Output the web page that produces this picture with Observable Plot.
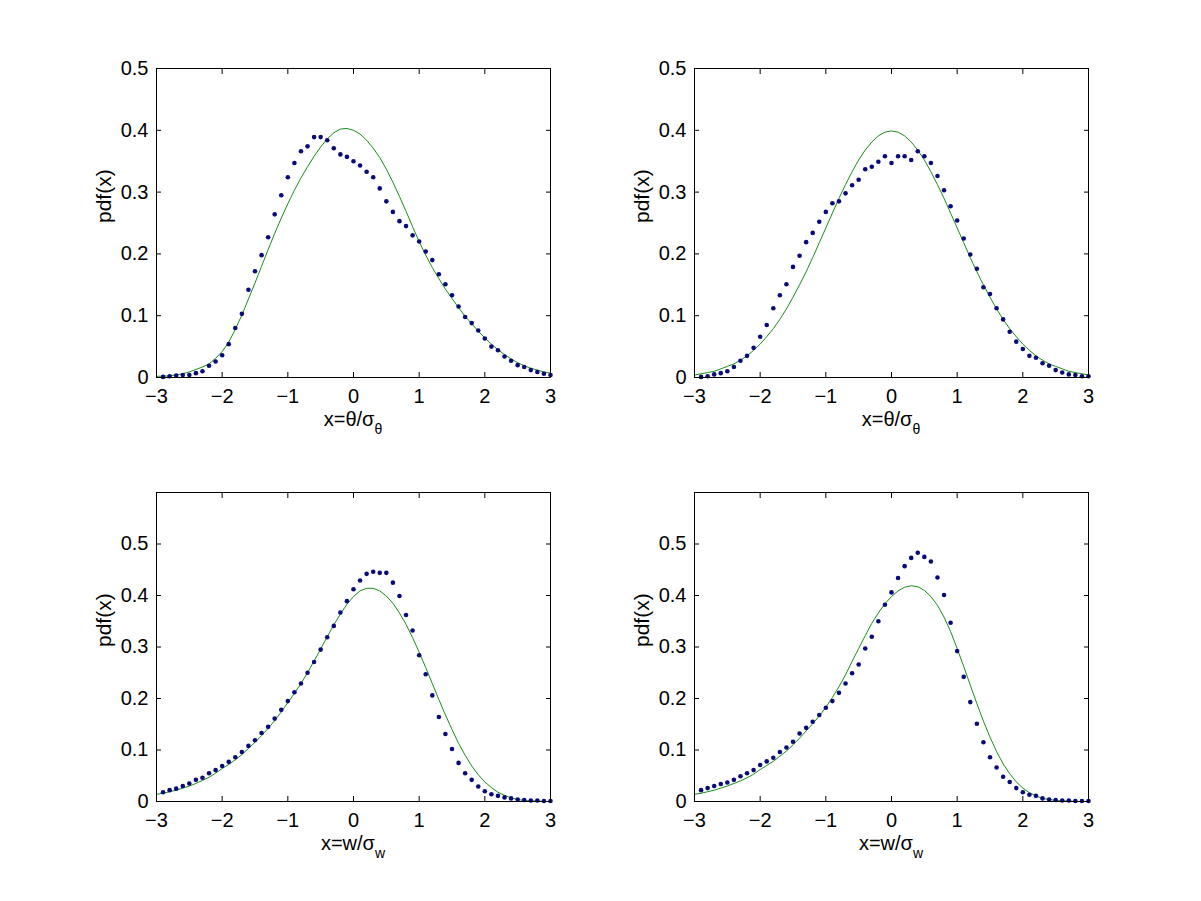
<!DOCTYPE html>
<html>
<head>
<meta charset="utf-8">
<script src="https://cdn.jsdelivr.net/npm/d3@7"></script>
<script src="https://cdn.jsdelivr.net/npm/@observablehq/plot@0.6"></script>
<style>
  html, body { margin: 0; padding: 0; background: #fff; }
  #fig { position: relative; width: 1201px; height: 901px; background: #fff; overflow: hidden; }
  #fig > div { position: absolute; }
  svg { overflow: visible; }
</style>
</head>
<body>
<div id="fig"></div>
<script>
// ---- data ----
const xDots = [-2.9,-2.8,-2.7,-2.6,-2.5,-2.4,-2.3,-2.2,-2.1,-2.0,
  -1.9,-1.8,-1.7,-1.6,-1.5,-1.4,-1.3,-1.2,-1.1,-1.0,
  -0.9,-0.8,-0.7,-0.6,-0.5,-0.4,-0.3,-0.2,-0.1,0.0,
  0.1,0.2,0.3,0.4,0.5,0.6,0.7,0.8,0.9,1.0,
  1.1,1.2,1.3,1.4,1.5,1.6,1.7,1.8,1.9,2.0,
  2.1,2.2,2.3,2.4,2.5,2.6,2.7,2.8,2.9,3.0];
const xLine = [-3.0, ...xDots];

const dotsThetaA = [0.001,0.002,0.003,0.004,0.004,0.007,0.010,0.019,0.026,0.036,
  0.054,0.080,0.103,0.142,0.172,0.198,0.227,0.264,0.295,0.324,
  0.347,0.366,0.374,0.389,0.389,0.384,0.371,0.361,0.357,0.350,
  0.343,0.333,0.324,0.306,0.285,0.268,0.253,0.245,0.230,0.220,
  0.204,0.190,0.167,0.151,0.133,0.115,0.098,0.088,0.076,0.063,
  0.050,0.044,0.034,0.027,0.020,0.017,0.012,0.009,0.006,0.004];
const lineThetaA = [0.002,
  0.002,0.003,0.004,0.006,0.009,0.013,0.017,0.022,0.031,0.042,
  0.057,0.078,0.101,0.127,0.153,0.180,0.207,0.233,0.258,0.281,
  0.303,0.323,0.341,0.358,0.373,0.386,0.396,0.402,0.403,0.400,
  0.394,0.384,0.371,0.356,0.337,0.316,0.293,0.269,0.244,0.220,
  0.198,0.178,0.160,0.143,0.128,0.113,0.099,0.087,0.075,0.064,
  0.054,0.045,0.037,0.030,0.024,0.019,0.015,0.012,0.009,0.007];

const dotsThetaB = [0.001,0.002,0.005,0.007,0.010,0.017,0.027,0.035,0.048,0.066,
  0.085,0.112,0.133,0.151,0.179,0.197,0.219,0.234,0.252,0.268,
  0.282,0.285,0.298,0.311,0.320,0.337,0.341,0.349,0.358,0.347,
  0.358,0.358,0.352,0.366,0.358,0.347,0.326,0.303,0.277,0.254,
  0.225,0.199,0.176,0.146,0.135,0.112,0.094,0.074,0.058,0.046,
  0.035,0.032,0.023,0.019,0.012,0.008,0.005,0.004,0.002,0.002];
const lineThetaB = [0.004,
  0.006,0.008,0.010,0.014,0.018,0.022,0.028,0.035,0.044,0.054,
  0.066,0.079,0.094,0.111,0.130,0.150,0.171,0.194,0.218,0.242,
  0.266,0.290,0.312,0.333,0.352,0.368,0.381,0.391,0.397,0.399,
  0.397,0.391,0.381,0.368,0.352,0.333,0.312,0.290,0.266,0.242,
  0.218,0.194,0.171,0.150,0.130,0.111,0.094,0.079,0.066,0.054,
  0.044,0.035,0.028,0.022,0.018,0.014,0.010,0.008,0.006,0.004];

const dotsWA = [0.018,0.022,0.025,0.030,0.035,0.042,0.046,0.055,0.061,0.069,
  0.077,0.086,0.096,0.108,0.119,0.133,0.145,0.161,0.178,0.195,
  0.212,0.229,0.250,0.271,0.295,0.319,0.341,0.367,0.389,0.412,
  0.429,0.442,0.446,0.444,0.444,0.425,0.399,0.362,0.332,0.284,
  0.247,0.206,0.164,0.131,0.102,0.075,0.055,0.042,0.029,0.020,
  0.014,0.011,0.008,0.006,0.004,0.003,0.002,0.002,0.001,0.001];
const lineWA = [0.014,
  0.016,0.019,0.022,0.026,0.030,0.035,0.041,0.047,0.055,0.064,
  0.072,0.081,0.091,0.103,0.115,0.128,0.142,0.157,0.174,0.192,
  0.210,0.229,0.250,0.273,0.296,0.320,0.343,0.364,0.383,0.398,
  0.409,0.414,0.414,0.409,0.399,0.385,0.366,0.344,0.318,0.290,
  0.260,0.229,0.198,0.168,0.140,0.113,0.090,0.069,0.052,0.038,
  0.027,0.018,0.012,0.007,0.004,0.002,0.001,0.001,0.000,0.000];

const dotsWB = [0.022,0.026,0.030,0.034,0.037,0.042,0.049,0.055,0.061,0.071,
  0.078,0.085,0.096,0.105,0.116,0.132,0.143,0.155,0.168,0.182,
  0.195,0.211,0.229,0.249,0.266,0.297,0.320,0.350,0.382,0.406,
  0.434,0.457,0.473,0.483,0.475,0.466,0.435,0.401,0.347,0.292,
  0.242,0.193,0.151,0.115,0.086,0.066,0.048,0.038,0.026,0.018,
  0.013,0.011,0.006,0.004,0.003,0.002,0.002,0.001,0.001,0.001];
const lineWB = [0.014,
  0.016,0.019,0.022,0.026,0.030,0.035,0.040,0.046,0.053,0.062,
  0.070,0.078,0.088,0.098,0.110,0.123,0.137,0.151,0.166,0.183,
  0.202,0.223,0.246,0.272,0.297,0.322,0.346,0.366,0.384,0.398,
  0.409,0.416,0.419,0.417,0.410,0.398,0.381,0.358,0.330,0.297,
  0.262,0.226,0.190,0.156,0.125,0.097,0.073,0.054,0.038,0.026,
  0.017,0.011,0.006,0.004,0.002,0.001,0.001,0.000,0.000,0.000];

const xTicks = [-3,-2,-1,0,1,2,3];
const yTicks = [0,0.1,0.2,0.3,0.4,0.5];
const yLabel = "pdf(x)";
const xLabelTheta = {main: "x=θ/σ", sub: "θ"};
const xLabelW = {main: "x=w/σ", sub: "w"};

// ---- panels ----
const panels = [
  {dots: dotsThetaA, line: lineThetaA, ymax: 0.5, label: xLabelTheta, left: 76,  top: 48},
  {dots: dotsThetaB, line: lineThetaB, ymax: 0.5, label: xLabelTheta, left: 614, top: 48},
  {dots: dotsWA,     line: lineWA,     ymax: 0.6, label: xLabelW,     left: 76,  top: 472},
  {dots: dotsWB,     line: lineWB,     ymax: 0.6, label: xLabelW,     left: 614, top: 472}
];

const mL = 80, mR = 20, mT = 20, mB = 70, W = 394, H = 309;
const font = "'Liberation Sans', Arial, Helvetica, sans-serif";
const fmtX = d => d < 0 ? "\u2212" + (-d) : String(d);
const fmtY = d => String(d);

const fig = document.getElementById("fig");
for (const p of panels) {
  const dotData = xDots.map((x, i) => ({x, y: p.dots[i]}));
  const lineData = xLine.map((x, i) => ({x, y: p.line[i]}));
  const svg = Plot.plot({
    width: mL + W + mR,
    height: mT + H + mB,
    marginLeft: mL, marginRight: mR, marginTop: mT, marginBottom: mB,
    style: {fontFamily: font, fontSize: "20px", background: "transparent", color: "#000"},
    x: {domain: [-3, 3]},
    y: {domain: [0, p.ymax]},
    marks: [
      Plot.line(lineData, {x: "x", y: "y", stroke: "#008000", strokeWidth: 0.9}),
      Plot.dot(dotData, {x: "x", y: "y", r: 2.3, fill: "#0a0a78", stroke: "none"}),
      Plot.frame({stroke: "#000", strokeWidth: 1}),
      Plot.axisX({anchor: "bottom", ticks: xTicks, tickSize: 0, tickPadding: 11, tickFormat: fmtX, stroke: "none", fontSize: 20, label: null}),
      Plot.axisX({anchor: "bottom", ticks: xTicks, tickSize: -5, fill: "none", label: null}),
      Plot.axisX({anchor: "top", ticks: xTicks, tickSize: -5, fill: "none", label: null}),
      Plot.axisY({anchor: "left", ticks: yTicks, tickSize: 0, tickPadding: 8, tickFormat: fmtY, stroke: "none", fontSize: 20, label: null}),
      Plot.axisY({anchor: "left", ticks: yTicks, tickSize: -5, fill: "none", label: null}),
      Plot.axisY({anchor: "right", ticks: yTicks, tickSize: -5, fill: "none", label: null}),
      Plot.text([yLabel], {frameAnchor: "left", dx: -52, rotate: -90, fontSize: 21, text: d => d, fill: "#000"})
    ]
  });
  // x label with subscript
  const s = d3.select(svg);
  const t = s.append("text")
    .attr("x", mL + W / 2)
    .attr("y", mT + H + 49)
    .attr("text-anchor", "middle")
    .attr("font-family", font)
    .attr("font-size", 20)
    .attr("fill", "#000");
  t.append("tspan").text(p.label.main);
  t.append("tspan").attr("dy", 8).attr("font-size", 14).text(p.label.sub);
  const wrap = document.createElement("div");
  wrap.style.left = p.left + "px";
  wrap.style.top = p.top + "px";
  wrap.appendChild(svg);
  fig.appendChild(wrap);
}
</script>
</body>
</html>
